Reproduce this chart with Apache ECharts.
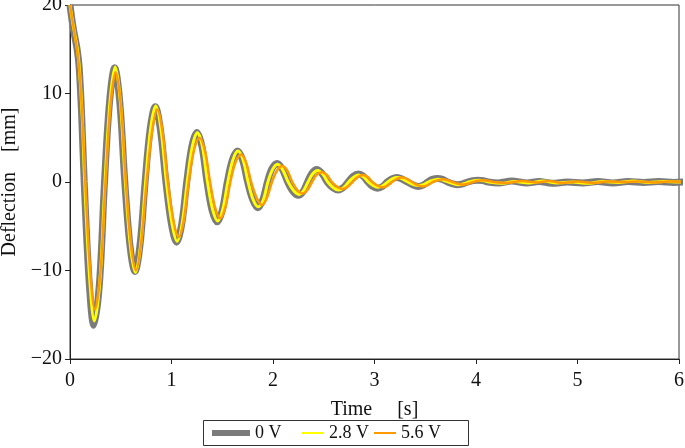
<!DOCTYPE html>
<html>
<head>
<meta charset="utf-8">
<script src="https://cdn.jsdelivr.net/npm/echarts@6/dist/echarts.min.js"></script>
<style>
  html, body { margin: 0; padding: 0; background: #fff; }
  #chart { width: 685px; height: 448px; }
</style>
</head>
<body>
<div id="chart"></div>
<script>
'use strict';

// deflection traces (time [s], deflection [mm])
// one row per oscillation: trough side, zero crossing, peak side, zero crossing
const seriesNames = ['0 V', '2.8 V', '5.6 V'];
const seriesColors = ['#7b7b7b', '#ffff00', '#ff9a00'];

const t0V = [0, 0.03, 0.07, 0.09, 0.115, 0.14,
    0.19, 0.235, 0.29, 0.34, 0.39, 0.44, 0.49, 0.54,
    0.59, 0.64, 0.69, 0.74, 0.79, 0.84, 0.89, 0.945,
    1.0, 1.05, 1.1, 1.15, 1.2, 1.25, 1.3, 1.35,
    1.4, 1.45, 1.5, 1.55, 1.6, 1.65, 1.7, 1.75,
    1.8, 1.85, 1.9, 1.945, 1.99, 2.04, 2.09, 2.145,
    2.2, 2.25, 2.295, 2.34, 2.385, 2.43, 2.48, 2.535,
    2.59, 2.64, 2.69, 2.74, 2.79, 2.84, 2.89, 2.935,
    2.98, 3.03, 3.08, 3.125, 3.17, 3.22, 3.27, 3.325,
    3.38, 3.43, 3.48, 3.525, 3.57, 3.62, 3.67, 3.72,
    3.77, 3.82, 3.87, 3.92, 3.97, 4.02, 4.07, 4.12,
    4.22, 4.35, 4.5, 4.62, 4.75, 4.9, 5.05, 5.2, 5.35, 5.5, 5.65, 5.8, 5.95, 6.05];
const y0V = [20, 17.5, 15.0, 13.0, 7.5, 0,
    -11.5, -16.2, -11.5, 0, 9.1, 12.9, 9.1, 0,
    -7.1, -10.1, -7.1, 0, 6.0, 8.5, 6.0, 0,
    -4.8, -6.8, -4.8, 0, 4.0, 5.6, 4.0, 0,
    -3.2, -4.5, -3.2, 0, 2.5, 3.5, 2.5, 0,
    -2.0, -2.9, -2.0, 0, 1.5, 2.1, 1.5, 0,
    -1.1, -1.5, -1.1, 0, 1.0, 1.4, 1.0, 0,
    -0.65, -0.9, -0.65, 0, 0.65, 0.9, 0.65, 0,
    -0.5, -0.7, -0.5, 0, 0.35, 0.5, 0.35, 0,
    -0.35, -0.5, -0.35, 0, 0.3, 0.4, 0.3, 0,
    -0.2, -0.3, -0.2, 0, 0.15, 0.2, 0.15, 0,
    -0.1, 0.1, -0.1, 0.05, -0.15, 0, -0.1, 0.05, -0.1, 0.05, -0.05, 0.05, -0.05, 0];

const t28V = [0, 0.03, 0.07, 0.09, 0.12, 0.145,
    0.195, 0.24, 0.295, 0.345, 0.395, 0.445, 0.495, 0.545,
    0.595, 0.645, 0.695, 0.745, 0.795, 0.845, 0.895, 0.95,
    1.005, 1.055, 1.105, 1.155, 1.205, 1.255, 1.305, 1.355,
    1.405, 1.455, 1.505, 1.555, 1.605, 1.655, 1.705, 1.755,
    1.805, 1.855, 1.905, 1.95, 1.995, 2.045, 2.095, 2.15,
    2.205, 2.255, 2.3, 2.345, 2.39, 2.44, 2.49, 2.54,
    2.595, 2.645, 2.695, 2.745, 2.795, 2.845, 2.895, 2.94,
    2.985, 3.035, 3.085, 3.13, 3.175, 3.225, 3.275, 3.33,
    3.385, 3.435, 3.485, 3.53, 3.58, 3.63, 3.68, 3.73,
    3.78, 3.83, 3.88, 3.93, 3.98, 4.03, 4.08, 4.13,
    4.25, 4.38, 4.52, 4.66, 4.8, 4.95, 5.1, 5.25, 5.4, 5.55, 5.7, 5.85, 6.0, 6.05];
const y28V = [20, 17.8, 15.2, 13.2, 7.5, 0,
    -11.1, -15.7, -11.1, 0, 9.2, 13.0, 9.2, 0,
    -7.2, -10.2, -7.2, 0, 6.1, 8.6, 6.1, 0,
    -4.7, -6.7, -4.7, 0, 4.0, 5.6, 4.0, 0,
    -3.1, -4.4, -3.1, 0, 2.5, 3.5, 2.5, 0,
    -2.0, -2.8, -2.0, 0, 1.4, 2.0, 1.4, 0,
    -1.0, -1.4, -1.0, 0, 0.9, 1.3, 0.9, 0,
    -0.65, -0.9, -0.65, 0, 0.55, 0.8, 0.55, 0,
    -0.4, -0.6, -0.4, 0, 0.35, 0.5, 0.35, 0,
    -0.3, -0.4, -0.3, 0, 0.2, 0.3, 0.2, 0,
    -0.2, -0.3, -0.2, 0, 0.15, 0.2, 0.15, 0,
    -0.15, 0.05, -0.1, 0.1, -0.1, 0, -0.15, 0.05, -0.05, 0.1, -0.05, 0.05, 0, 0];

const t56V = [0, 0.035, 0.075, 0.1, 0.125, 0.15,
    0.2, 0.245, 0.3, 0.35, 0.4, 0.45, 0.5, 0.55,
    0.6, 0.65, 0.7, 0.755, 0.81, 0.86, 0.91, 0.965,
    1.02, 1.07, 1.12, 1.17, 1.22, 1.275, 1.33, 1.38,
    1.43, 1.48, 1.53, 1.58, 1.63, 1.685, 1.735, 1.785,
    1.84, 1.89, 1.94, 1.99, 2.04, 2.09, 2.14, 2.19,
    2.24, 2.29, 2.34, 2.385, 2.43, 2.48, 2.53, 2.58,
    2.635, 2.685, 2.735, 2.785, 2.835, 2.885, 2.935, 2.98,
    3.03, 3.08, 3.13, 3.175, 3.22, 3.27, 3.32, 3.37,
    3.425, 3.475, 3.525, 3.575, 3.625, 3.675, 3.72, 3.77,
    3.82, 3.87, 3.92, 3.97, 4.02, 4.07, 4.12, 4.17,
    4.3, 4.45, 4.6, 4.72, 4.85, 5.0, 5.15, 5.3, 5.45, 5.6, 5.75, 5.9, 6.05];
const y56V = [20, 17.5, 14.5, 11.5, 6.5, 0,
    -10.2, -14.4, -10.2, 0, 8.8, 12.4, 8.8, 0,
    -7.0, -10.0, -7.0, 0, 5.8, 8.2, 5.8, 0,
    -4.4, -6.2, -4.4, 0, 3.5, 5.0, 3.5, 0,
    -2.9, -4.1, -2.9, 0, 2.2, 3.1, 2.2, 0,
    -1.8, -2.6, -1.8, 0, 1.3, 1.8, 1.3, 0,
    -0.9, -1.3, -0.9, 0, 0.8, 1.1, 0.8, 0,
    -0.55, -0.8, -0.55, 0, 0.55, 0.8, 0.55, 0,
    -0.4, -0.6, -0.4, 0, 0.35, 0.5, 0.35, 0,
    -0.35, -0.5, -0.35, 0, 0.2, 0.3, 0.2, 0,
    -0.2, -0.3, -0.2, 0, 0.15, 0.2, 0.15, 0,
    -0.1, 0.1, -0.05, 0.1, -0.1, 0.05, -0.1, 0.05, 0, 0.05, -0.05, 0.05, 0];

const xTicks = { min: 0, max: 6, interval: 1 };
const yTicks = { min: -20, max: 20, interval: 10 };

const FONT = '"Liberation Serif", "Times New Roman", serif';

const pairs = (ts, ys) => ts.map((t, i) => [t, ys[i]]);
const traces = [pairs(t0V, y0V), pairs(t28V, y28V), pairs(t56V, y56V)];
const widths = [7, 3, 2.5];

const lineSeries = traces.map((data, i) => ({
    name: seriesNames[i],
    type: 'line',
    data,
    smooth: 0.35,
    showSymbol: false,
    animation: false,
    color: seriesColors[i],
    lineStyle: { width: widths[i], color: seriesColors[i] },
    z: 2 + i
}));

const legendBase = {
    top: 424,
    padding: 0,
    icon: 'rect',
    itemGap: 0,
    textStyle: { fontFamily: FONT, fontSize: 18, color: '#111' }
};

const option = {
    backgroundColor: '#fff',
    animation: false,
    grid: {
        left: 70, right: 6, top: 5, bottom: 89,
        outerBoundsMode: 'none',
        containLabel: false,
        show: true, borderColor: '#333', borderWidth: 1
    },
    xAxis: {
        type: 'value',
        min: xTicks.min, max: xTicks.max, interval: xTicks.interval,
        name: 'Time     [s]',
        nameLocation: 'middle',
        nameGap: 41,
        nameTextStyle: { fontFamily: FONT, fontSize: 20, color: '#111' },
        axisLine: { onZero: false, lineStyle: { color: '#222', width: 1 } },
        axisTick: { show: true, length: 5, lineStyle: { color: '#222' } },
        axisLabel: { fontFamily: FONT, fontSize: 20, color: '#111', margin: 12 },
        splitLine: { show: false }
    },
    yAxis: {
        type: 'value',
        min: yTicks.min, max: yTicks.max, interval: yTicks.interval,
        name: 'Deflection    [mm]',
        nameLocation: 'middle',
        nameGap: 46,
        nameRotate: 90,
        nameTextStyle: { fontFamily: FONT, fontSize: 20, color: '#111' },
        axisLine: { show: true, onZero: false, lineStyle: { color: '#222', width: 1 } },
        axisTick: { show: true, length: 5, lineStyle: { color: '#222' } },
        axisLabel: {
            fontFamily: FONT, fontSize: 20, color: '#111', margin: 8,
            formatter: v => String(v).replace('-', '\u2212')
        },
        splitLine: { show: false }
    },
    legend: [
        Object.assign({}, legendBase, { left: 212, data: [seriesNames[0]], itemWidth: 38, itemHeight: 6 }),
        Object.assign({}, legendBase, { left: 302, data: [seriesNames[1]], itemWidth: 22, itemHeight: 2 }),
        Object.assign({}, legendBase, { left: 374, data: [seriesNames[2]], itemWidth: 22, itemHeight: 2 })
    ],
    graphic: [{
        type: 'rect',
        shape: { x: 203.5, y: 420.5, width: 265, height: 25 },
        style: { fill: 'none', stroke: '#333', lineWidth: 1 },
        silent: true
    }],
    series: lineSeries
};

const chart = echarts.init(document.getElementById('chart'), null, { renderer: 'canvas' });
chart.setOption(option);
</script>
</body>
</html>
